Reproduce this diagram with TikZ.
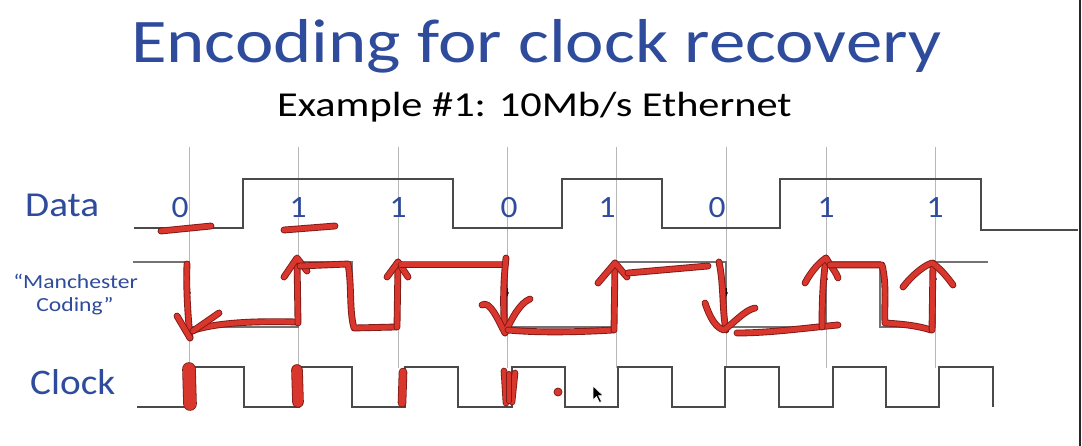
\documentclass[tikz,border=0pt]{standalone}
\usepackage{fontspec}
\setmainfont{Carlito}
\usetikzlibrary{arrows.meta}
\definecolor{slideblue}{HTML}{2E4B9C}
\definecolor{ink}{HTML}{D9362E}
\definecolor{inkdark}{HTML}{7E1A14}
\definecolor{wave}{HTML}{4A4A4A}
\tikzset{
 wavestyle/.style={draw=wave, line width=1.2pt, line join=miter},
 manwave/.style={draw=black!55, line width=1.1pt, line join=miter},
 guide/.style={draw=black!28, line width=0.6pt},
 inkstroke/.style={draw=ink, line width=5pt, line cap=round, line join=round,
   preaction={draw=inkdark, line width=6.8pt, line cap=round, line join=round}},
 blob/.style={draw=ink, line width=#1, line cap=round,
   preaction={draw=inkdark, line width=#1+1.6pt, line cap=round}},
 lbl/.style={inner sep=0pt, anchor=base west, text=slideblue},
 digit/.style={inner sep=0pt, anchor=base, text=slideblue, font=\fontsize{31}{31}\selectfont},
 tick/.style={-{Stealth[length=5pt,width=4pt]}, black, line width=0.6pt},
}
\begin{document}
\begin{tikzpicture}[x=1pt,y=-1pt]
\useasboundingbox (0,0) rectangle (1082,446);
\fill[white] (0,0) rectangle (1082,446);

% titles
\node[lbl, font=\fontsize{62}{62}\selectfont] (title) at (131,63)
  {\scalebox{1.175}[1]{Encoding for clock recovery}};
\node[inner sep=0pt, anchor=base west, text=black, font=\fontsize{35}{35}\selectfont] (sub) at (277,117)
  {\scalebox{1.21}[1]{Example \#1: 10Mb/s Ethernet}};

% row labels
\node[lbl, font=\fontsize{35}{35}\selectfont] (datalbl) at (25,217) {\scalebox{1.12}[1]{Data}};
\node[lbl, font=\fontsize{36}{36}\selectfont] (clocklbl) at (30,395) {\scalebox{1.09}[1]{Clock}};
\node[inner sep=0pt, anchor=base, text=slideblue, font=\fontsize{20}{20}\selectfont] (manlbl1) at (75.5,289)
  {\scalebox{1.18}[1]{“Manchester}};
\node[inner sep=0pt, anchor=base, text=slideblue, font=\fontsize{20}{20}\selectfont] (manlbl2) at (75,312)
  {\scalebox{1.18}[1]{Coding”}};

% guides
\foreach \x in {189,298,398,507,616,726,826,935}
  \draw[guide] (\x,147) -- (\x,368);

% bit values
\foreach \x/\b [count=\i] in {180/0,298/1,398/1,509/0,607/1,717/0,826/1,935/1}
  \node[digit] (bit\i) at (\x,218) {\scalebox{1.08}[1]{\b}};

% data waveform
\draw[wavestyle] (134,228) -- (243,228) -- (243,179) -- (453,179) -- (453,228) -- (562,228)
  -- (562,179) -- (662,179) -- (662,228) -- (780,228) -- (780,179) -- (981,179) -- (981,230) -- (1078,230);

% manchester waveform
\draw[manwave] (133,262) -- (189,262) -- (189,327) -- (298,327) -- (298,262) -- (352,262) -- (352,327)
  -- (398,327) -- (398,262) -- (507,262) -- (507,327) -- (616,327) -- (616,262) -- (726,262) -- (726,327)
  -- (826,327) -- (826,262) -- (880,262) -- (880,327) -- (935,327) -- (935,262) -- (988,262);
\foreach \x in {189,507,726} \draw[tick] (\x,288) -- (\x,297);
\foreach \x in {298,398,616,826,935} \draw[tick] (\x,284) -- (\x,275);

% clock waveform
\draw[wavestyle] (137,407) -- (191,407) -- (191,367) -- (244,367) -- (244,407) -- (299,407) -- (299,367)
  -- (352,367) -- (352,407) -- (405,407) -- (405,367) -- (458,367) -- (458,407) -- (512,407) -- (512,367)
  -- (565,367) -- (565,407) -- (618,407) -- (618,367) -- (672,367) -- (672,407) -- (725,407) -- (725,367)
  -- (779,367) -- (779,407) -- (833,407) -- (833,367) -- (886,367) -- (886,407) -- (939,407) -- (939,367)
  -- (993,367) -- (993,407);

% screen edge
\draw[black!85, line width=2pt] (1080,0) -- (1080,446);

% red ink: data underlines
\draw[inkstroke] (161,231) -- (211,226);
\draw[inkstroke] (284,230) -- (335,226);

% red ink: manchester trace
\draw[inkstroke] (187,264) .. controls (186,290) and (188,315) .. (190,338);
\draw[inkstroke] (177,316) -- (190,338);
\draw[inkstroke] (297,322) .. controls (260,321) and (220,322) .. (194,330);
\draw[inkstroke] (219,313) -- (193,331);
\draw[inkstroke] (298,323) -- (297,259);
\draw[inkstroke] (284,277) -- (297,258) -- (307,271);
\draw[inkstroke] (300,266) -- (348,264) .. controls (352,285) and (349,310) .. (354,328) -- (396,327);
\draw[inkstroke] (397,327) -- (398,262);
\draw[inkstroke] (387,277) -- (398,262) -- (408,277);
\draw[inkstroke] (401,265) -- (505,265);
\draw[inkstroke] (506,258) .. controls (503,285) and (503,310) .. (505,333);
\draw[inkstroke] (482,305) .. controls (490,300) and (498,320) .. (505,333) .. controls (512,318) and (520,303) .. (530,299);
\draw[inkstroke] (508,330) .. controls (540,333) and (580,332) .. (613,330);
\draw[inkstroke] (614,330) -- (615,263);
\draw[inkstroke] (598,283) -- (615,263) -- (627,277);
\draw[inkstroke] (628,273) -- (708,266);
\draw[inkstroke] (719,262) .. controls (724,285) and (722,310) .. (726,330);
\draw[inkstroke] (705,303) .. controls (710,318) and (716,328) .. (724,330) .. controls (735,322) and (745,310) .. (755,308);
\draw[inkstroke] (737,333) .. controls (770,333) and (805,328) .. (838,325);
\draw[inkstroke] (822,327) .. controls (822,300) and (823,280) .. (826,258);
\draw[inkstroke] (805,283) .. controls (812,270) and (820,262) .. (826,258) .. controls (830,265) and (836,272) .. (838,278);
\draw[inkstroke] (830,265) -- (882,265) .. controls (887,285) and (884,305) .. (885,323) .. controls (900,324) and (915,325) .. (931,330);
\draw[inkstroke] (932,330) -- (933,263);
\draw[inkstroke] (903,287) .. controls (912,275) and (925,265) .. (932,263) .. controls (940,268) and (948,278) .. (953,285);

% red ink: clock marks
\draw[blob=12pt] (189,369) -- (190,404);
\draw[blob=10pt] (297,370) -- (298,402);
\draw[blob=7pt] (403,372) -- (402,403);
\draw[blob=5pt] (504,371) -- (506,403);
\draw[blob=5pt] (515,373) -- (512,402);
\draw[blob=4.5pt] (509,374) -- (509,401);
\fill[ink, draw=inkdark, line width=0.8pt] (558,392) circle[radius=4pt];

% mouse pointer
\filldraw[fill=black, draw=white, line width=0.5pt] (593,386) -- (593,400) -- (596.5,396.5) -- (599.5,402.5)
  -- (601.5,401.5) -- (598.5,395.5) -- (603,395.5) -- cycle;
\end{tikzpicture}
\end{document}
